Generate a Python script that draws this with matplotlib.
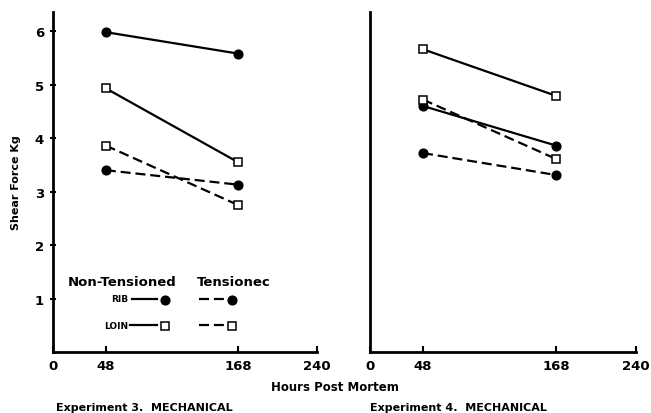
import numpy as np
import matplotlib.pyplot as plt

hours = [48, 168]

# Experiment 3 (left panel)
exp3_rib_nt = [5.98, 5.58]
exp3_loin_nt = [4.93, 3.55]
exp3_rib_t = [3.40, 3.13]
exp3_loin_t = [3.86, 2.75]

# Experiment 4 (right panel)
exp4_rib_nt = [4.60, 3.86]
exp4_loin_nt = [5.66, 4.79]
exp4_rib_t = [3.72, 3.31]
exp4_loin_t = [4.72, 3.61]

x_ticks = [0, 48, 168, 240]
y_ticks = [1, 2, 3, 4, 5, 6]

plt.rcParams['font.family'] = ['DejaVu Sans']
plt.rcParams['font.weight'] = 'bold'

fig = plt.figure(figsize=(6.51, 4.14), dpi=100)
ax1 = fig.add_axes([0.0814, 0.147, 0.406, 0.822])
ax2 = fig.add_axes([0.568, 0.147, 0.409, 0.822])

LW = 1.6
DASH = (0, (4.5, 2.2))
MS_C = 6.3
MS_S = 5.8


def draw_panel(ax, rib_nt, loin_nt, rib_t, loin_t):
    ax.plot(hours, rib_nt, color='black', lw=LW, marker='o', ms=MS_C,
            mfc='black', mec='black')
    ax.plot(hours, loin_nt, color='black', lw=LW, marker='s', ms=MS_S,
            mfc='white', mec='black', mew=1.1)
    ax.plot(hours, rib_t, color='black', lw=LW, ls=DASH, marker='o', ms=MS_C,
            mfc='black', mec='black')
    ax.plot(hours, loin_t, color='black', lw=LW, ls=DASH, marker='s', ms=MS_S,
            mfc='white', mec='black', mew=1.1)
    ax.set_xlim(0, 240)
    ax.set_ylim(0, 6.36)
    ax.set_xticks(x_ticks)
    ax.set_xticklabels([str(t) for t in x_ticks], fontsize=9.5, fontweight='bold')
    for s in ['top', 'right']:
        ax.spines[s].set_visible(False)
    for s in ['left', 'bottom']:
        ax.spines[s].set_linewidth(2)
    ax.tick_params(axis='x', direction='in', length=4, width=1.5, pad=5)


draw_panel(ax1, exp3_rib_nt, exp3_loin_nt, exp3_rib_t, exp3_loin_t)
draw_panel(ax2, exp4_rib_nt, exp4_loin_nt, exp4_rib_t, exp4_loin_t)

ax1.set_yticks(y_ticks)
ax1.set_yticklabels([str(t) for t in y_ticks], fontsize=9.5, fontweight='bold')
ax1.tick_params(axis='y', direction='inout', length=5, width=1.5, pad=4)
ax1.set_ylabel('Shear Force Kg', fontsize=8, fontweight='bold', labelpad=10)
ax2.set_yticks([])

# legend drawn inside left panel
ax1.text(13, 1.32, 'Non-Tensioned', fontsize=9.5, fontweight='bold', va='center')
ax1.text(131, 1.32, 'Tensionec', fontsize=9.5, fontweight='bold', va='center')
ax1.text(68, 1.0, 'RIB', fontsize=6.5, ha='right', va='center')
ax1.text(68, 0.5, 'LOIN', fontsize=6.5, ha='right', va='center')
ax1.plot([72, 94], [1.0, 1.0], color='black', lw=LW)
ax1.plot([102], [0.98], marker='o', ms=MS_C, color='black')
ax1.plot([70, 94], [0.5, 0.5], color='black', lw=LW)
ax1.plot([102], [0.48], marker='s', ms=5.3, mfc='white', mec='black', mew=1.1)
ax1.plot([133, 156], [1.0, 1.0], color='black', lw=LW, ls=DASH)
ax1.plot([163], [0.98], marker='o', ms=MS_C, color='black')
ax1.plot([133, 156], [0.5, 0.5], color='black', lw=LW, ls=DASH)
ax1.plot([163], [0.48], marker='s', ms=5.3, mfc='white', mec='black', mew=1.1)

fig.text(335 / 651, 1 - 388 / 414, 'Hours Post Mortem', fontsize=8.5,
         fontweight='bold', ha='center', va='center')
fig.text(56 / 651, 1 - 408 / 414, 'Experiment 3.  MECHANICAL', fontsize=8,
         fontweight='bold', ha='left', va='center')
fig.text(370 / 651, 1 - 408 / 414, 'Experiment 4.  MECHANICAL', fontsize=8,
         fontweight='bold', ha='left', va='center')

fig.savefig('out.png', dpi=100)
